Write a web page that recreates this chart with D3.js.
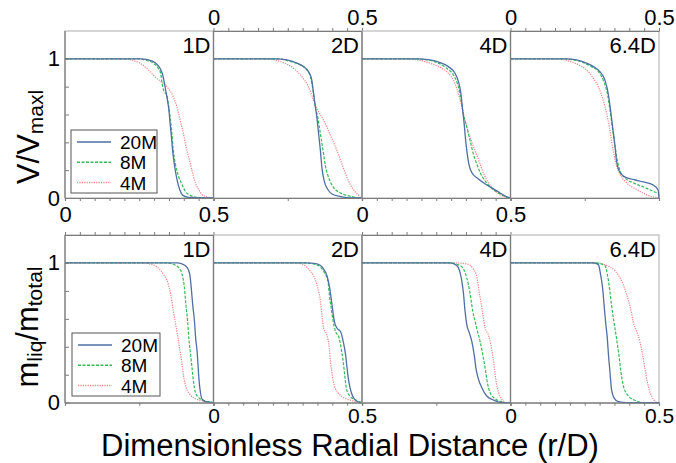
<!DOCTYPE html>
<html>
<head>
<meta charset="utf-8">
<script src="https://cdn.jsdelivr.net/npm/d3@7"></script>
<style>
  html, body { margin: 0; padding: 0; background: #fff; }
  svg { display: block; font-family: "Liberation Sans", Arial, sans-serif; }
</style>
</head>
<body>
<svg id="chart" width="676" height="463"></svg>
<script>
// Distances downstream of the nozzle, one column per distance
const panels = ["1D", "2D", "4D", "6.4D"];
const series = ["20M", "8M", "4M"];

// Normalised axial velocity V/Vmaxl against r/D, one curve per panel
const velocity20M = [
  [[0,1],[0.252,1],[0.281,0.993],[0.303,0.973],[0.320,0.932],[0.329,0.884],[0.334,0.835],[0.339,0.775],[0.345,0.702],[0.350,0.630],[0.354,0.533],[0.359,0.424],[0.363,0.327],[0.369,0.230],[0.377,0.133],[0.386,0.061],[0.397,0.019],[0.416,0.005],[0.5,0]],
  [[0,1],[0.213,1],[0.247,0.993],[0.281,0.969],[0.303,0.944],[0.320,0.908],[0.331,0.847],[0.337,0.751],[0.343,0.654],[0.348,0.581],[0.354,0.460],[0.360,0.339],[0.365,0.218],[0.373,0.121],[0.385,0.061],[0.399,0.029],[0.428,0.010],[0.462,0],[0.5,0]],
  [[0,1],[0.184,1],[0.229,0.993],[0.263,0.973],[0.291,0.944],[0.313,0.896],[0.325,0.835],[0.333,0.751],[0.339,0.630],[0.344,0.533],[0.348,0.436],[0.353,0.339],[0.360,0.242],[0.370,0.182],[0.387,0.145],[0.409,0.109],[0.437,0.073],[0.465,0.036],[0.493,0.004],[0.5,0]],
  [[0,1],[0.189,1],[0.222,0.993],[0.256,0.969],[0.279,0.944],[0.301,0.908],[0.318,0.847],[0.329,0.751],[0.337,0.630],[0.344,0.508],[0.351,0.387],[0.357,0.266],[0.366,0.194],[0.380,0.157],[0.413,0.133],[0.447,0.115],[0.480,0.094],[0.497,0.058],[0.5,0]]
];
const velocity8M = [
  [[0,1],[0.247,1],[0.275,0.988],[0.2975,0.969],[0.314,0.932],[0.322,0.896],[0.327,0.823],[0.332,0.775],[0.343,0.738],[0.348,0.678],[0.354,0.581],[0.360,0.460],[0.365,0.339],[0.372,0.242],[0.382,0.157],[0.394,0.097],[0.405,0.048],[0.422,0.019],[0.445,0.005],[0.49,0],[0.5,0]],
  [[0,1],[0.213,1],[0.258,0.981],[0.292,0.956],[0.314,0.920],[0.326,0.872],[0.335,0.775],[0.343,0.654],[0.351,0.581],[0.360,0.460],[0.369,0.339],[0.377,0.230],[0.388,0.145],[0.405,0.073],[0.428,0.036],[0.462,0.012],[0.495,0],[0.5,0]],
  [[0,1],[0.173,1],[0.218,0.993],[0.257,0.969],[0.285,0.932],[0.308,0.884],[0.321,0.823],[0.330,0.751],[0.337,0.654],[0.344,0.581],[0.353,0.508],[0.364,0.412],[0.375,0.315],[0.387,0.242],[0.398,0.182],[0.415,0.121],[0.437,0.068],[0.465,0.029],[0.488,0.005],[0.5,0]],
  [[0,1],[0.166,1],[0.211,0.993],[0.245,0.973],[0.273,0.944],[0.296,0.908],[0.312,0.847],[0.326,0.751],[0.335,0.630],[0.343,0.508],[0.351,0.387],[0.360,0.266],[0.369,0.194],[0.385,0.145],[0.413,0.109],[0.447,0.080],[0.480,0.048],[0.498,0.030],[0.5,0.01]]
];
const velocity4M = [
  [[0,1],[0.201,1],[0.230,0.988],[0.252,0.969],[0.275,0.932],[0.292,0.896],[0.309,0.860],[0.332,0.823],[0.348,0.787],[0.365,0.726],[0.377,0.654],[0.388,0.557],[0.399,0.460],[0.408,0.363],[0.417,0.291],[0.428,0.194],[0.439,0.109],[0.450,0.061],[0.462,0.024],[0.479,0.007],[0.5,0]],
  [[0,1],[0.179,1],[0.224,0.981],[0.269,0.932],[0.2975,0.872],[0.320,0.799],[0.337,0.702],[0.348,0.642],[0.365,0.581],[0.382,0.508],[0.399,0.424],[0.416,0.339],[0.433,0.242],[0.450,0.145],[0.467,0.073],[0.484,0.029],[0.499,0],[0.5,0]],
  [[0,1],[0.151,1],[0.196,0.988],[0.235,0.964],[0.269,0.932],[0.291,0.896],[0.308,0.847],[0.319,0.787],[0.328,0.726],[0.336,0.654],[0.344,0.581],[0.355,0.496],[0.366,0.424],[0.381,0.339],[0.396,0.254],[0.411,0.169],[0.426,0.109],[0.443,0.061],[0.465,0.024],[0.488,0.005],[0.5,0]],
  [[0,1],[0.144,1],[0.189,0.988],[0.222,0.964],[0.256,0.920],[0.279,0.860],[0.296,0.799],[0.312,0.702],[0.324,0.605],[0.333,0.508],[0.340,0.412],[0.348,0.315],[0.357,0.230],[0.369,0.169],[0.391,0.109],[0.425,0.061],[0.458,0.024],[0.481,0.007],[0.5,0]]
];

// Liquid mass fraction mliq/mtotal against r/D, one curve per panel
const liquid20M = [
  [[0,1],[0.377,1],[0.394,0.993],[0.411,0.969],[0.420,0.920],[0.425,0.823],[0.430,0.702],[0.436,0.581],[0.440,0.460],[0.445,0.363],[0.448,0.266],[0.451,0.169],[0.456,0.073],[0.462,0.024],[0.473,0.007],[0.5,0]],
  [[0,1],[0.314,1],[0.348,0.993],[0.371,0.956],[0.382,0.908],[0.391,0.823],[0.399,0.702],[0.407,0.581],[0.416,0.533],[0.428,0.508],[0.437,0.436],[0.445,0.339],[0.450,0.242],[0.456,0.145],[0.464,0.073],[0.475,0.024],[0.495,0],[0.5,0]],
  [[0,1],[0.297,1],[0.319,0.981],[0.330,0.932],[0.336,0.872],[0.342,0.775],[0.347,0.654],[0.353,0.557],[0.362,0.496],[0.370,0.436],[0.378,0.339],[0.384,0.242],[0.392,0.169],[0.403,0.109],[0.420,0.048],[0.443,0.019],[0.476,0],[0.5,0]],
  [[0,1],[0.279,1],[0.296,0.988],[0.303,0.920],[0.310,0.823],[0.315,0.702],[0.320,0.581],[0.326,0.460],[0.330,0.339],[0.335,0.218],[0.340,0.097],[0.348,0.036],[0.363,0.007],[0.391,0],[0.5,0]]
];
const liquid8M = [
  [[0,1],[0.343,1],[0.360,0.993],[0.382,0.969],[0.394,0.920],[0.402,0.823],[0.407,0.702],[0.413,0.581],[0.417,0.460],[0.422,0.363],[0.428,0.242],[0.433,0.145],[0.439,0.073],[0.450,0.036],[0.467,0.017],[0.490,0.005],[0.5,0]],
  [[0,1],[0.303,1],[0.337,0.993],[0.360,0.969],[0.373,0.932],[0.385,0.872],[0.390,0.775],[0.396,0.678],[0.403,0.581],[0.411,0.508],[0.422,0.472],[0.430,0.387],[0.437,0.291],[0.442,0.194],[0.448,0.097],[0.459,0.048],[0.479,0.019],[0.495,0.005],[0.5,0]],
  [[0,1],[0.297,1],[0.330,0.981],[0.347,0.932],[0.358,0.847],[0.366,0.751],[0.373,0.654],[0.381,0.581],[0.389,0.508],[0.398,0.436],[0.407,0.339],[0.415,0.242],[0.422,0.145],[0.431,0.073],[0.448,0.029],[0.471,0.007],[0.488,0],[0.5,0]],
  [[0,1],[0.286,1],[0.318,0.981],[0.326,0.920],[0.333,0.823],[0.340,0.702],[0.348,0.581],[0.357,0.460],[0.365,0.339],[0.372,0.218],[0.380,0.121],[0.397,0.048],[0.425,0.012],[0.453,0],[0.5,0]]
];
const liquid4M = [
  [[0,1],[0.264,1],[0.286,0.993],[0.309,0.973],[0.331,0.920],[0.348,0.847],[0.356,0.775],[0.363,0.678],[0.371,0.581],[0.379,0.484],[0.386,0.387],[0.393,0.291],[0.399,0.194],[0.408,0.109],[0.420,0.061],[0.439,0.029],[0.467,0.012],[0.49,0],[0.5,0]],
  [[0,1],[0.269,1],[0.2975,0.993],[0.320,0.956],[0.337,0.908],[0.351,0.823],[0.360,0.726],[0.365,0.630],[0.371,0.533],[0.382,0.484],[0.390,0.387],[0.394,0.291],[0.400,0.194],[0.407,0.121],[0.419,0.073],[0.439,0.036],[0.473,0.012],[0.499,0],[0.5,0]],
  [[0,1],[0.319,1],[0.353,0.993],[0.375,0.956],[0.387,0.896],[0.394,0.799],[0.400,0.726],[0.407,0.630],[0.415,0.533],[0.426,0.484],[0.434,0.412],[0.440,0.339],[0.446,0.242],[0.452,0.145],[0.460,0.073],[0.471,0.024],[0.488,0],[0.5,0]],
  [[0,1],[0.296,1],[0.324,0.981],[0.352,0.944],[0.374,0.872],[0.391,0.775],[0.404,0.678],[0.413,0.581],[0.425,0.508],[0.436,0.436],[0.445,0.339],[0.453,0.242],[0.461,0.145],[0.470,0.073],[0.481,0.024],[0.496,0],[0.5,0]]
];

const xTicks = d3.range(0, 0.5001, 0.05).map(v => +v.toFixed(2));
const yTicks = [0, 0.2, 0.4, 0.6, 0.8, 1];
const xLabels = ["0", "0.5"];
const yLabels = ["0", "1"];

const styles = {
  "20M": { color: "#4f6fa3", dash: null, width: 1.3 },
  "8M":  { color: "#33bb55", dash: "3,1.5", width: 1.2 },
  "4M":  { color: "#f57f85", dash: "1.2,1.2", width: 1.2 }
};

const svg = d3.select("#chart");
const left = 65, panelW = 148.5;
const rows = [
  { top: 31, bottom: 198, data: [velocity20M, velocity8M, velocity4M],
    legend: { x: 71, y: 130, w: 86, h: 63 }, titleBase: 53, bottomPad: 5, labelSize: 22 },
  { top: 235, bottom: 402.7, data: [liquid20M, liquid8M, liquid4M],
    legend: { x: 72, y: 333, w: 88, h: 63 }, titleBase: 257, bottomPad: 2, labelSize: 21 }
];

const axisColor = "#7c7c7c", frameColor = "#b9b9b9";
const fmt = d => (d === 0 ? xLabels[0] : d === 0.5 ? xLabels[1] : "");

function styleAxis(g, withText, size) {
  g.select(".domain").attr("stroke", axisColor).attr("stroke-width", 1.2);
  g.selectAll(".tick line").attr("stroke", axisColor).attr("stroke-width", 1);
  g.selectAll(".tick text").attr("font-size", size || 22).attr("fill", "#000")
    .attr("font-family", "'Liberation Sans', Arial, sans-serif");
  if (!withText) g.selectAll(".tick text").remove();
}

rows.forEach((row, ri) => {
  const y = d3.scaleLinear().domain([0, 1.2]).range([row.bottom, row.top]);

  panels.forEach((name, pi) => {
    const x = d3.scaleLinear().domain([0, 0.5]).range([left + pi * panelW, left + (pi + 1) * panelW]);
    const g = svg.append("g");

    // light frame around the panel
    g.append("rect")
      .attr("x", x(0)).attr("y", row.top)
      .attr("width", x(0.5) - x(0)).attr("height", row.bottom - row.top)
      .attr("fill", "none").attr("stroke", frameColor).attr("stroke-width", 1.2);

    // curves, coarsest grid underneath
    const line = d3.line().x(d => x(d[0])).y(d => y(d[1])).curve(d3.curveMonotoneX);
    series.slice().reverse().forEach((s, k) => {
      const idx = series.length - 1 - k;
      const st = styles[s];
      g.append("path")
        .attr("d", line(row.data[idx][pi]))
        .attr("fill", "none")
        .attr("stroke", st.color)
        .attr("stroke-width", st.width)
        .attr("stroke-dasharray", st.dash);
    });

    // left edge of each panel
    g.append("line").attr("x1", x(0)).attr("x2", x(0))
      .attr("y1", row.top).attr("y2", row.bottom)
      .attr("stroke", axisColor).attr("stroke-width", 1.2);

    const odd = pi % 2 === 0;
    // bottom axis
    const showBottomTicks = (ri === 0 && odd) || (ri === 1 && !odd);
    const bottomAxis = d3.axisBottom(x).tickSizeOuter(0).tickPadding(row.bottomPad)
      .tickValues(showBottomTicks ? xTicks : [0.25]).tickSize(3).tickFormat(fmt);
    const gb = g.append("g").attr("transform", `translate(0,${row.bottom})`).call(bottomAxis);
    styleAxis(gb, showBottomTicks, row.labelSize);

    // top axis where ticks face the row gap or the page top
    const showTopTicks = (ri === 0 && !odd) || (ri === 1 && odd);
    if (showTopTicks) {
      const topAxis = d3.axisTop(x).tickValues(xTicks).tickSize(3).tickSizeOuter(0).tickPadding(3).tickFormat(fmt);
      const gt = g.append("g").attr("transform", `translate(0,${row.top})`).call(topAxis);
      styleAxis(gt, ri === 0, 22);
    }

    // panel title
    g.append("text")
      .attr("x", x(0.5) - 3).attr("y", row.titleBase)
      .attr("text-anchor", "end")
      .attr("font-size", 22)
      .text(name);

    if (pi === 0) {
      const ya = d3.axisLeft(y).tickValues(yTicks).tickSize(-4).tickSizeOuter(0).tickPadding(5)
        .tickFormat(d => (d === 0 ? yLabels[0] : d === 1 ? yLabels[1] : ""));
      const gy = g.append("g").attr("transform", `translate(${x(0)},0)`).call(ya);
      styleAxis(gy, true, 22);
      gy.select(".domain").remove();

      // legend
      const L = row.legend;
      const lg = g.append("g");
      lg.append("rect").attr("x", L.x).attr("y", L.y).attr("width", L.w).attr("height", L.h)
        .attr("fill", "#fff").attr("stroke", "#555").attr("stroke-width", 1);
      series.forEach((s, k) => {
        const cy = L.y + 12 + k * 20.3;
        const st = styles[s];
        lg.append("line").attr("x1", L.x + 6).attr("x2", L.x + 40).attr("y1", cy).attr("y2", cy)
          .attr("stroke", st.color).attr("stroke-width", st.width + 0.3)
          .attr("stroke-dasharray", st.dash);
        lg.append("text").attr("x", L.x + 49).attr("y", cy + 7)
          .attr("font-size", 19).text(s);
      });
    }
  });
});

// y axis titles with subscripts
function yTitle(cx, cy, parts) {
  const t = svg.append("text")
    .attr("transform", `translate(${cx},${cy}) rotate(-90)`)
    .attr("text-anchor", "middle")
    .attr("font-size", 31);
  let shift = 0;
  parts.forEach(p => {
    const dy = p.sub ? 4 - shift : -shift;
    shift = p.sub ? 4 : 0;
    t.append("tspan").attr("dy", dy).attr("font-size", p.sub ? 21 : 31).text(p.text);
  });
}
yTitle(39, 137, [{ text: "V/V" }, { text: "maxl", sub: true }]);
yTitle(38, 327, [{ text: "m" }, { text: "liq", sub: true }, { text: "/m" }, { text: "total", sub: true }]);

svg.append("text")
  .attr("x", 350).attr("y", 456)
  .attr("text-anchor", "middle")
  .attr("font-size", 31)
  .text("Dimensionless Radial Distance (r/D)");
</script>
</body>
</html>
